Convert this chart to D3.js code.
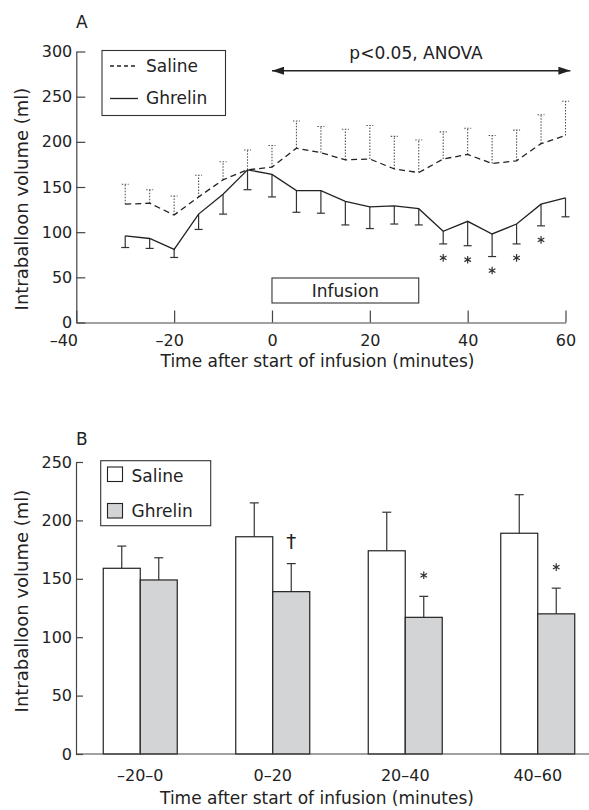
<!DOCTYPE html>
<html>
<head>
<meta charset="utf-8">
<script src="https://cdn.jsdelivr.net/npm/d3@7"></script>
<style>
  body { margin: 0; background: #fff; }
  svg { display: block; }
  text { font-family: 'DejaVu Sans', sans-serif; fill: #222; }
</style>
</head>
<body>
<div id="chart"></div>
<script>
// ---------------------------------------------------------------------------
// Data
// ---------------------------------------------------------------------------
// Panel A: time course, mean and SEM
const times = [-30, -25, -20, -15, -10, -5, 0, 5, 10, 15, 20, 25, 30, 35, 40, 45, 50, 55, 60];
const salineMean = [131, 132, 119, 139, 158, 169, 172, 193, 188, 180, 181, 170, 166, 181, 186, 176, 179, 198, 207];
const salineSem  = [22, 15, 21, 24, 20, 22, 24, 30, 29, 34, 37, 36, 36, 30, 29, 31, 34, 32, 38];
const ghrelinMean = [96, 93, 81, 120, 142, 169, 164, 146, 146, 134, 128, 129, 126, 101, 112, 98, 109, 131, 138];
const ghrelinSem  = [13, 11, 9, 17, 22, 22, 25, 24, 25, 26, 24, 20, 18, 14, 27, 25, 22, 24, 21];
const starTimes = [35, 40, 45, 50, 55];
const xTicksA = [-40, -20, 0, 20, 40, 60];
const yTicksA = [0, 50, 100, 150, 200, 250, 300];
const infusion = [0, 30];

// Panel B: 20 minute periods
const periods = ['–20–0', '0–20', '20–40', '40–60'];
const groups = ['Saline', 'Ghrelin'];
const salineBar = [159, 186, 174, 189];
const salineBarSem = [19, 29, 33, 33];
const ghrelinBar = [149, 139, 117, 120];
const ghrelinBarSem = [19, 24, 18, 22];
const marksB = ['', '†', '*', '*'];
const yTicksB = [0, 50, 100, 150, 200, 250];

const xTitle = 'Time after start of infusion (minutes)';
const yTitle = 'Intraballoon volume (ml)';

// ---------------------------------------------------------------------------
const W = 589, H = 810;
const ink = '#222', axisInk = '#444';

const svg = d3.select('#chart').append('svg')
    .attr('width', W).attr('height', H);

svg.append('defs').append('marker')
    .attr('id', 'head')
    .attr('viewBox', '0 0 12 8')
    .attr('refX', 12).attr('refY', 4)
    .attr('markerWidth', 12).attr('markerHeight', 8)
    .attr('markerUnits', 'userSpaceOnUse')
    .attr('orient', 'auto-start-reverse')
    .append('path').attr('d', 'M0,0 L12,4 L0,8 Z').attr('fill', ink);

function styleAxis(g) {
    g.select('.domain').attr('stroke', axisInk).attr('stroke-width', 1.2);
    g.selectAll('.tick line').attr('stroke', axisInk).attr('stroke-width', 1.2);
    g.selectAll('.tick text').attr('fill', ink).style('font-size', '16px')
        .style('font-family', "'DejaVu Sans', sans-serif");
}

// ===========================================================================
// PANEL A
// ===========================================================================
const xA = d3.scaleLinear().domain([-40, 60]).range([76.3, 565.5]);
const yA = d3.scaleLinear().domain([0, 300]).range([322.5, 51.5]);

const gA = svg.append('g');

gA.append('g')
    .attr('transform', `translate(0,${yA(0)})`)
    .call(d3.axisBottom(xA).tickValues(xTicksA).tickSizeInner(-12).tickSizeOuter(0).tickPadding(12.5)
        .tickFormat(d => d < 0 ? '–' + (-d) : d))
    .call(styleAxis)
    // the leftmost label sits left of the y axis, the others centre their digits
    .call(g => g.selectAll('.tick text').attr('dx', d => d === -40 ? -13 : d < 0 ? -5 : 0));

gA.append('g')
    .attr('transform', `translate(${xA(-40)},0)`)
    .call(d3.axisLeft(yA).tickValues(yTicksA).tickSizeInner(-9).tickSizeOuter(0).tickPadding(4))
    .call(styleAxis);

gA.append('text').attr('x', 76).attr('y', 28).style('font-size', '17px').text('A');

gA.append('text')
    .attr('x', 317.5).attr('y', 367)
    .attr('text-anchor', 'middle').style('font-size', '17px').text(xTitle);

gA.append('text')
    .attr('transform', 'translate(28,199) rotate(-90)')
    .attr('text-anchor', 'middle').style('font-size', '18px').text(yTitle);

const salineA = times.map((t, i) => ({ t, m: salineMean[i], s: salineSem[i] }));
const ghrelinA = times.map((t, i) => ({ t, m: ghrelinMean[i], s: ghrelinSem[i] }));

// saline error bars (upwards, dotted)
const sErr = gA.append('g').attr('stroke', '#555').attr('stroke-width', 1.1)
    .attr('stroke-dasharray', '1.5,1.5');
sErr.selectAll('.v').data(salineA).enter().append('line')
    .attr('x1', d => xA(d.t)).attr('x2', d => xA(d.t))
    .attr('y1', d => yA(d.m)).attr('y2', d => yA(d.m + d.s));
sErr.selectAll('.c').data(salineA).enter().append('line')
    .attr('x1', d => xA(d.t) - 3.5).attr('x2', d => xA(d.t) + 3.5)
    .attr('y1', d => yA(d.m + d.s)).attr('y2', d => yA(d.m + d.s));

// ghrelin error bars (downwards, solid)
const gErr = gA.append('g').attr('stroke', '#333').attr('stroke-width', 1.2);
gErr.selectAll('.v').data(ghrelinA).enter().append('line')
    .attr('x1', d => xA(d.t)).attr('x2', d => xA(d.t))
    .attr('y1', d => yA(d.m)).attr('y2', d => yA(d.m - d.s));
gErr.selectAll('.c').data(ghrelinA).enter().append('line')
    .attr('x1', d => xA(d.t) - 4).attr('x2', d => xA(d.t) + 4)
    .attr('y1', d => yA(d.m - d.s)).attr('y2', d => yA(d.m - d.s));

const line = d3.line().x(d => xA(d.t)).y(d => yA(d.m));
gA.append('path').datum(salineA).attr('d', line)
    .attr('fill', 'none').attr('stroke', ink).attr('stroke-width', 1.3).attr('stroke-dasharray', '6,4');
gA.append('path').datum(ghrelinA).attr('d', line)
    .attr('fill', 'none').attr('stroke', ink).attr('stroke-width', 1.3);

// significance stars below ghrelin error bars
const star = d3.symbol(d3.symbolAsterisk, 40);
gA.selectAll('.star').data(ghrelinA.filter(d => starTimes.includes(d.t))).enter()
    .append('path')
    .attr('d', star)
    .attr('transform', d => `translate(${xA(d.t)},${yA(d.m - d.s) + 14})`)
    .attr('fill', 'none').attr('stroke', '#333').attr('stroke-width', 1.2);

// infusion box
gA.append('rect')
    .attr('x', xA(infusion[0])).attr('y', 278)
    .attr('width', xA(infusion[1]) - xA(infusion[0])).attr('height', 25)
    .attr('fill', '#fff').attr('stroke', '#333').attr('stroke-width', 1.1);
gA.append('text')
    .attr('x', (xA(infusion[0]) + xA(infusion[1])) / 2).attr('y', 297)
    .attr('text-anchor', 'middle').style('font-size', '17px').text('Infusion');

// ANOVA arrow
gA.append('line')
    .attr('x1', xA(0)).attr('x2', xA(61))
    .attr('y1', 70.7).attr('y2', 70.7)
    .attr('stroke', ink).attr('stroke-width', 1.4)
    .attr('marker-start', 'url(#head)').attr('marker-end', 'url(#head)');
gA.append('text')
    .attr('x', 416).attr('y', 59)
    .attr('text-anchor', 'middle').style('font-size', '17px').text('p<0.05, ANOVA');

// legend A
const legA = gA.append('g');
legA.append('rect').attr('x', 102).attr('y', 50.5).attr('width', 123.5).attr('height', 65)
    .attr('fill', '#fff').attr('stroke', '#333').attr('stroke-width', 1.1);
legA.append('line').attr('x1', 110).attr('x2', 138).attr('y1', 66).attr('y2', 66)
    .attr('stroke', ink).attr('stroke-width', 1.3).attr('stroke-dasharray', '4,3');
legA.append('line').attr('x1', 110).attr('x2', 138).attr('y1', 98.5).attr('y2', 98.5)
    .attr('stroke', ink).attr('stroke-width', 1.3);
legA.append('text').attr('x', 146).attr('y', 72).style('font-size', '17px').text('Saline');
legA.append('text').attr('x', 146).attr('y', 104).style('font-size', '17px').text('Ghrelin');

// ===========================================================================
// PANEL B
// ===========================================================================
const xB = d3.scaleBand().domain(periods).range([74, 604]).paddingInner(0.4415).paddingOuter(0.2208);
const xSub = d3.scaleBand().domain(groups).range([0, xB.bandwidth()]);
const yB = d3.scaleLinear().domain([0, 250]).range([754, 462]);

const gB = svg.append('g');

const barData = periods.map((p, i) => [
    { p, g: 'Saline', m: salineBar[i], s: salineBarSem[i], mark: '' },
    { p, g: 'Ghrelin', m: ghrelinBar[i], s: ghrelinBarSem[i], mark: marksB[i] }
]).flat();

// error bars (drawn first so bars sit on top)
const bErr = gB.append('g').attr('stroke', '#333').attr('stroke-width', 1.2);
const cx = d => xB(d.p) + xSub(d.g) + xSub.bandwidth() / 2;
bErr.selectAll('.v').data(barData).enter().append('line')
    .attr('x1', cx).attr('x2', cx)
    .attr('y1', d => yB(d.m)).attr('y2', d => yB(d.m + d.s));
bErr.selectAll('.c').data(barData).enter().append('line')
    .attr('x1', d => cx(d) - 4.5).attr('x2', d => cx(d) + 4.5)
    .attr('y1', d => yB(d.m + d.s)).attr('y2', d => yB(d.m + d.s));

gB.selectAll('.bar').data(barData).enter().append('rect')
    .attr('x', d => xB(d.p) + xSub(d.g))
    .attr('y', d => yB(d.m))
    .attr('width', xSub.bandwidth())
    .attr('height', d => yB(0) - yB(d.m))
    .attr('fill', d => d.g === 'Saline' ? '#fff' : '#d3d4d6')
    .attr('stroke', '#222').attr('stroke-width', 1.2);

// significance marks above ghrelin error bars
const marked = barData.filter(d => d.mark);
gB.selectAll('.star').data(marked.filter(d => d.mark === '*')).enter()
    .append('path')
    .attr('d', star)
    .attr('transform', d => `translate(${cx(d)},${yB(d.m + d.s) - 21})`)
    .attr('fill', 'none').attr('stroke', '#333').attr('stroke-width', 1.2);
gB.selectAll('.dagger').data(marked.filter(d => d.mark === '†')).enter()
    .append('text')
    .attr('x', cx).attr('y', d => yB(d.m + d.s) - 16)
    .attr('text-anchor', 'middle').style('font-size', '20px').text(d => d.mark);

// axes
gB.append('g')
    .attr('transform', `translate(0,${yB(0)})`)
    .call(d3.axisBottom(xB).tickSize(0).tickPadding(16))
    .call(styleAxis)
    .call(g => g.select('.domain').remove());
gB.append('line')
    .attr('x1', 76).attr('x2', W).attr('y1', yB(0)).attr('y2', yB(0))
    .attr('stroke', axisInk).attr('stroke-width', 1.2);

gB.append('g')
    .attr('transform', 'translate(76,0)')
    .call(d3.axisLeft(yB).tickValues(yTicksB).tickSizeInner(-7).tickSizeOuter(0).tickPadding(4))
    .call(styleAxis);

gB.append('text').attr('x', 76).attr('y', 445).style('font-size', '17px').text('B');

gB.append('text')
    .attr('x', 317).attr('y', 804)
    .attr('text-anchor', 'middle').style('font-size', '17px').text(xTitle);

gB.append('text')
    .attr('transform', 'translate(28,601) rotate(-90)')
    .attr('text-anchor', 'middle').style('font-size', '18px').text(yTitle);

// legend B
const legB = gB.append('g');
legB.append('rect').attr('x', 100.7).attr('y', 460.7).attr('width', 110).attr('height', 65)
    .attr('fill', '#fff').attr('stroke', '#333').attr('stroke-width', 1.1);
groups.forEach((g, i) => {
    legB.append('rect')
        .attr('x', 107.5).attr('y', 467 + i * 36.5).attr('width', 15).attr('height', 14.5)
        .attr('fill', g === 'Saline' ? '#fff' : '#d3d4d6')
        .attr('stroke', '#222').attr('stroke-width', 1.1);
    legB.append('text').attr('x', 131.5).attr('y', 482 + i * 35)
        .style('font-size', '17px').text(g);
});
</script>
</body>
</html>
